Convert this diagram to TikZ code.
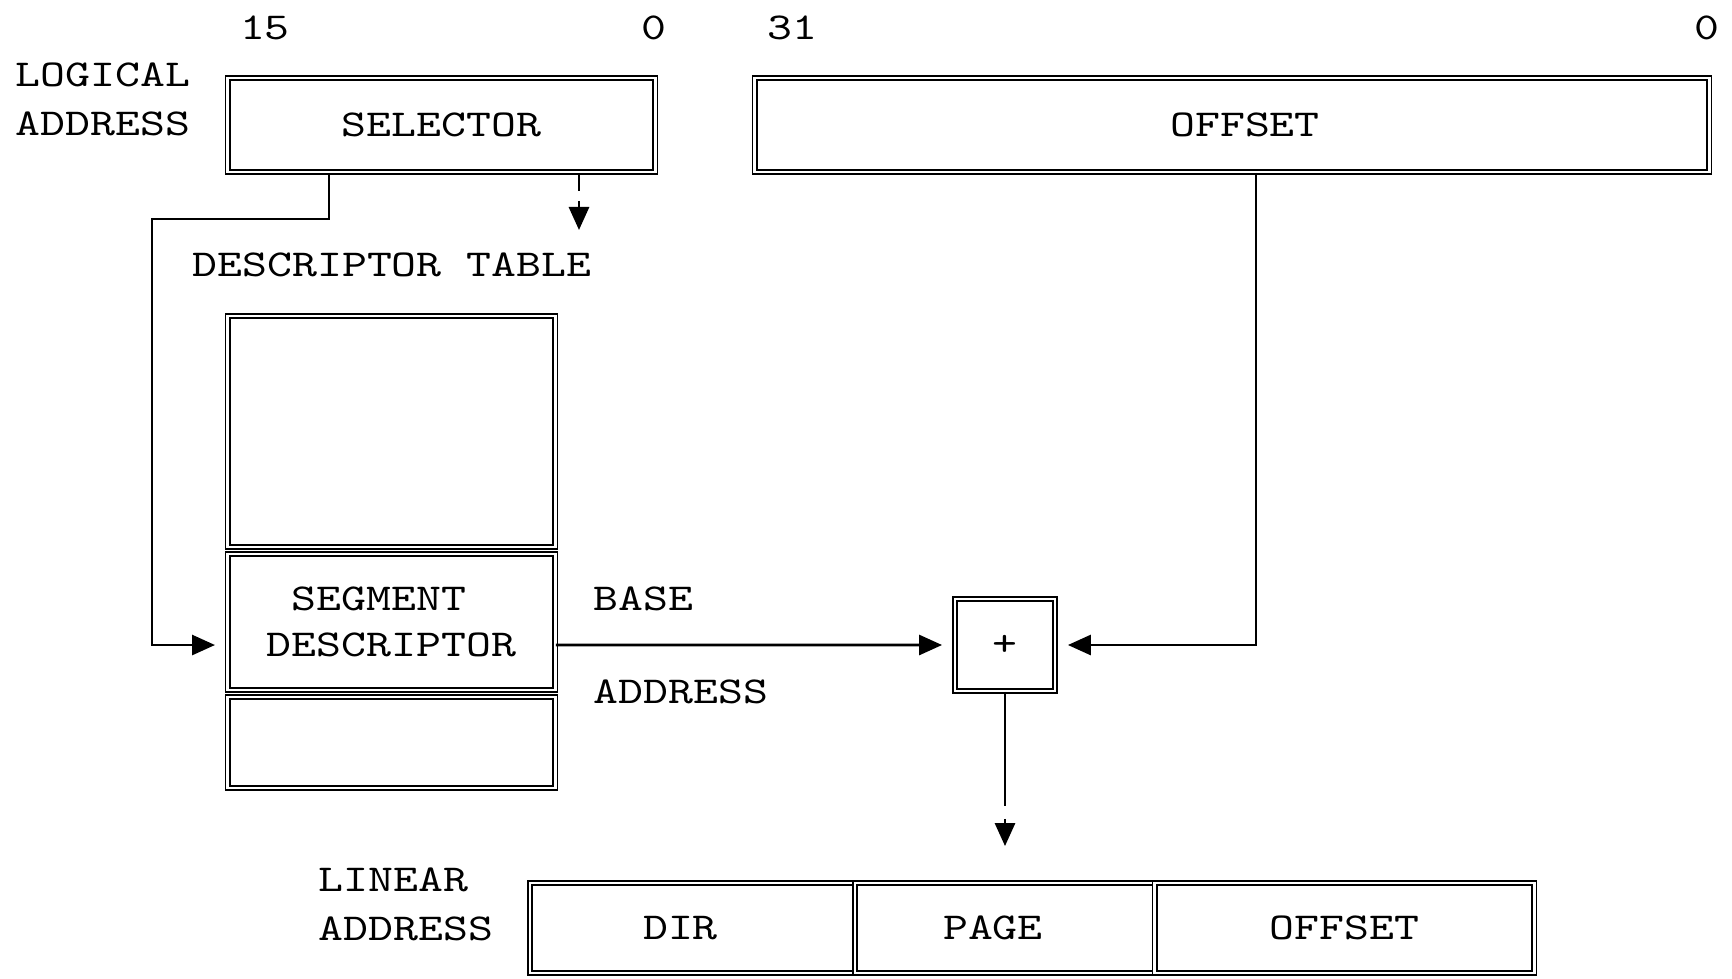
\documentclass[tikz,border=0pt]{standalone}
\usepackage{fontspec}
\setmainfont{Latin Modern Mono}[FakeStretch=1.25]
\usepackage{tikz}
\usetikzlibrary{arrows.meta, calc}

\begin{document}
\begin{tikzpicture}[x=0.01cm, y=-0.01cm,
        every node/.style={font=\fontsize{10.8}{13.9}\selectfont, inner sep=0pt},
        box/.style={draw, double, line width=0.5pt, double distance=0.8pt, minimum height=0.94cm},
        conn/.style={line width=0.8pt},
        arr/.style={conn, -{Triangle[length=0.23cm, width=0.2cm]}}]
                \useasboundingbox (0,0) rectangle (1732,978);
                \node[box, minimum width=4.27cm] (sel) at (441.5,125) {SELECTOR};
                \node[box, minimum width=9.54cm, label={[xshift=0.13cm]center:OFFSET}] (off) at (1232,125) {};
                \node (b15) at (265,28) {15};
                \node (b0a) at (654,28) {0};
                \node (b31) at (792,28) {31};
                \node (b0b) at (1707,28) {0};
                \node[align=left, anchor=west] (logaddr) at (15,99.5) {LOGICAL\\ADDRESS};
                \node (tblname) at (392,265) {DESCRIPTOR TABLE};
                \node[box, minimum width=3.27cm, minimum height=2.31cm] (tbltop) at (391.5,431.5) {};
                \node[box, minimum width=3.27cm, minimum height=1.36cm, align=left] (seg) at (391.5,622) {\hphantom{X}SEGMENT\\[-0.9pt]DESCRIPTOR};
                \node[box, minimum width=3.27cm, minimum height=0.91cm] (tblbot) at (391.5,742.5) {};
                \node[anchor=west] (base) at (593,599) {BASE};
                \node[anchor=west] (addr) at (593,692) {ADDRESS};
                \node[box, minimum width=1.00cm, minimum height=0.92cm] (plus) at (1005,645) {+};
                \node[align=left, anchor=west] (linaddr) at (318,904) {LINEAR\\ADDRESS};
                \node[box, minimum width=3.25cm, minimum height=0.90cm, label={[xshift=-0.12cm]center:DIR}] (dir) at (692.5,928) {};
                \node[box, minimum width=3.00cm, minimum height=0.90cm, label={[xshift=-0.12cm]center:PAGE}] (page) at (1005,928) {};
                \node[box, minimum width=3.79cm, minimum height=0.90cm] (loff) at (1344.5,928) {OFFSET};
                \coordinate (selL) at (329,0);
                \coordinate (turn) at (152,219);
                \coordinate (tick) at (579,0);
                \coordinate (tblptr) at (579,230);
                \coordinate (offL) at (1256,0);
                \draw[arr, shorten >=0.12cm] (sel.south -| selL) |- (turn) |- ([yshift=-0.23cm]seg.west);
                \draw[conn] (sel.south -| tick) -- ++(0,18);
                \draw[arr] ($(sel.south -| tick)+(0,28)$) -- (tblptr);
                \draw[arr, shorten >=0.12cm] ([yshift=-0.23cm]seg.east) -- (plus.west);
                \draw[arr, shorten >=0.12cm] (off.south -| offL) |- (plus.east);
                \draw[conn] (plus.south) -- ++(0,114);
                \draw[arr] ($(plus.south)+(0,127)$) -- ([yshift=0.36cm]page.north);
            \end{tikzpicture}
\end{document}
